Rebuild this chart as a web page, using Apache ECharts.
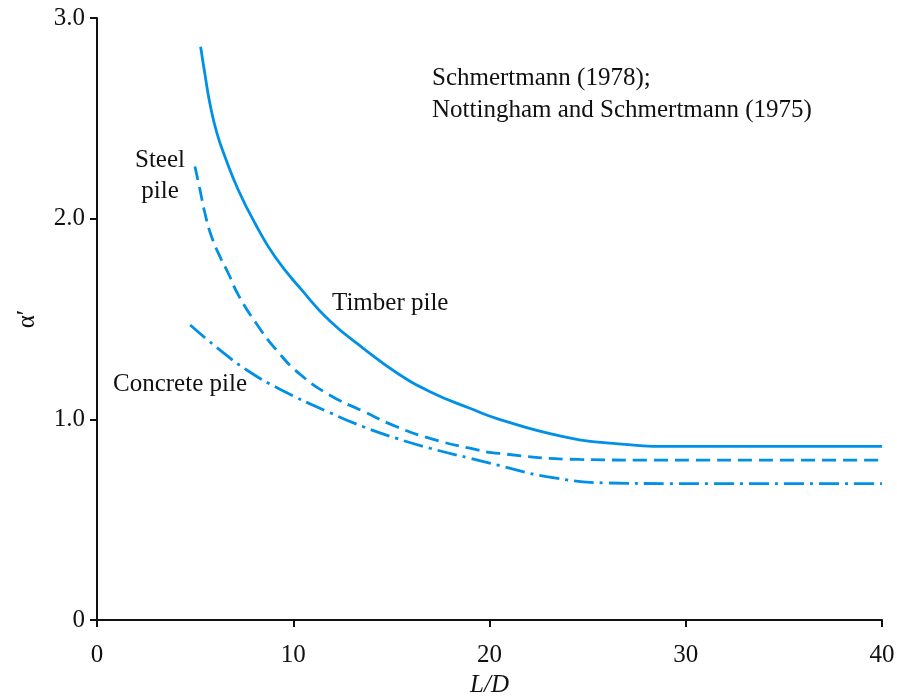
<!DOCTYPE html>
<html>
<head>
<meta charset="utf-8">
<script src="https://cdn.jsdelivr.net/npm/echarts@6/dist/echarts.min.js"></script>
<style>
html,body{margin:0;padding:0;background:#fff;}
#chart{width:897px;height:700px;}
</style>
</head>
<body>
<div id="chart"></div>
<script>
// Data (L/D vs alpha')
const xTicks = [0, 10, 20, 30, 40];
const yTicks = [0, 1.0, 2.0, 3.0];

const timberLD    = [5.28, 5.5, 5.76, 6.1, 6.52, 7.2, 8.05, 9.07, 10.43, 11.87, 13.57, 15.27, 16.97, 19.0, 20.5, 23.7, 26.3, 29.7, 33, 40];
const timberAlpha = [2.857, 2.72, 2.57, 2.43, 2.309, 2.143, 1.977, 1.81, 1.645, 1.49, 1.354, 1.232, 1.138, 1.055, 1.0, 0.915, 0.88, 0.865, 0.865, 0.865];

const steelLD    = [4.99, 5.25, 5.5, 5.84, 6.27, 6.69, 7.2, 8.1, 9.15, 10.34, 11.87, 13.57, 15.27, 16.97, 19.0, 20.5, 24.6, 28, 40];
const steelAlpha = [2.26, 2.143, 2.027, 1.91, 1.81, 1.728, 1.62, 1.48, 1.345, 1.225, 1.12, 1.04, 0.963, 0.905, 0.856, 0.83, 0.80, 0.797, 0.797];

const concreteLD    = [4.75, 6.27, 7.63, 9.32, 11.87, 13.57, 15.27, 16.97, 19.0, 20.5, 22.9, 26.0, 29, 40];
const concreteAlpha = [1.47, 1.345, 1.246, 1.15, 1.033, 0.963, 0.905, 0.856, 0.806, 0.77, 0.715, 0.683, 0.68, 0.68];

const labels = {
  ref1: 'Schmertmann (1978);',
  ref2: 'Nottingham and Schmertmann (1975)',
  steel1: 'Steel',
  steel2: 'pile',
  timber: 'Timber pile',
  concrete: 'Concrete pile'
};

function pairs(xs, ys) { return xs.map((x, i) => [x, ys[i]]); }

const FONT = '"Liberation Serif", "Times New Roman", serif';
const BLUE = '#0090E6';

const chart = echarts.init(document.getElementById('chart'), null, {renderer: 'canvas'});

function txt(text, x, y, align) {
  return {
    type: 'text', x: x, y: y, silent: true,
    style: {
      text: text, fill: '#111', font: '25px ' + FONT,
      align: align, verticalAlign: 'middle',
      textAlign: align, textVerticalAlign: 'middle'
    }
  };
}

const option = {
  animation: false,
  backgroundColor: '#fff',
  grid: {left: 97, right: 15, top: 18, bottom: 80, containLabel: false, outerBoundsMode: 'none'},
  xAxis: {
    type: 'value', min: 0, max: 40, interval: 10,
    name: 'L/D', nameLocation: 'middle', nameGap: 53,
    nameTextStyle: {fontFamily: FONT, fontSize: 25, fontStyle: 'italic', color: '#111'},
    axisLine: {show: true, onZero: false, lineStyle: {color: '#111', width: 2}},
    axisTick: {show: true, inside: false, length: 7, lineStyle: {color: '#111', width: 2}},
    axisLabel: {margin: 23, fontFamily: FONT, fontSize: 25, color: '#111',
      formatter: v => xTicks.includes(v) ? String(v) : ''},
    splitLine: {show: false}
  },
  yAxis: {
    type: 'value', min: 0, max: 3, interval: 1,
    name: 'α′', nameLocation: 'middle', nameGap: 57, nameRotate: 90,
    nameTextStyle: {fontFamily: FONT, fontSize: 25, color: '#111'},
    axisLine: {show: true, onZero: false, lineStyle: {color: '#111', width: 2}},
    axisTick: {show: true, inside: false, length: 7, lineStyle: {color: '#111', width: 2}},
    axisLabel: {margin: 12, fontFamily: FONT, fontSize: 25, color: '#111',
      formatter: v => yTicks.includes(v) ? (v === 0 ? '0' : v.toFixed(1)) : ''},
    splitLine: {show: false}
  },
  series: [
    {
      name: 'Timber pile', type: 'line', data: pairs(timberLD, timberAlpha),
      smooth: 0.5, showSymbol: false, symbol: 'none',
      lineStyle: {color: BLUE, width: 2.8, type: 'solid', cap: 'butt'}
    },
    {
      name: 'Steel pile', type: 'line', data: pairs(steelLD, steelAlpha),
      smooth: 0.5, showSymbol: false, symbol: 'none',
      lineStyle: {color: BLUE, width: 2.8, type: [14, 7], cap: 'butt'}
    },
    {
      name: 'Concrete pile', type: 'line', data: pairs(concreteLD, concreteAlpha),
      smooth: 0.5, showSymbol: false, symbol: 'none',
      lineStyle: {color: BLUE, width: 2.8, type: [20, 6, 3, 6], cap: 'butt'}
    }
  ],
  graphic: [
    txt(labels.ref1, 432, 78, 'left'),
    txt(labels.ref2, 432, 110, 'left'),
    txt(labels.steel1, 160, 160, 'center'),
    txt(labels.steel2, 160, 191, 'center'),
    txt(labels.timber, 332, 303, 'left'),
    txt(labels.concrete, 113, 384, 'left')
  ]
};

chart.setOption(option);
</script>
</body>
</html>
